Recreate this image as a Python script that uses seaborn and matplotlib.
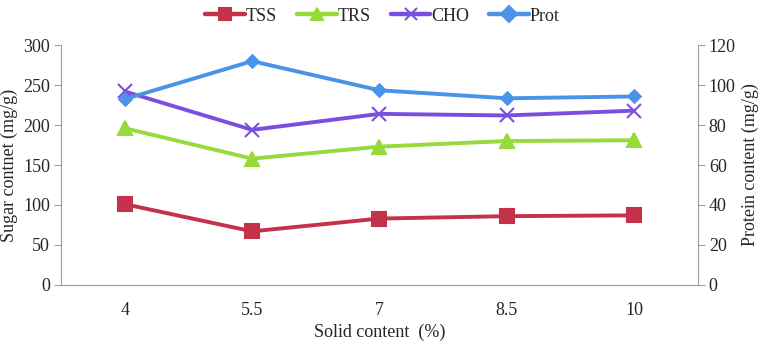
import pandas as pd
import numpy as np
import matplotlib.pyplot as plt
import seaborn as sns
from matplotlib.lines import Line2D

# ========== DATA ==========
solid = ["4", "5.5", "7", "8.5", "10"]
tss = [101, 67, 83, 86, 87]
trs = [196, 158, 173, 180, 181]
cho = [242, 194, 214, 212, 218]
prot = [93, 112, 97.4, 93.4, 94.3]

df = pd.DataFrame({"solid": solid, "TSS": tss, "TRS": trs, "CHO": cho, "Prot": prot})

# ========== STYLE ==========
sns.set_style("white")
plt.rcParams['font.family'] = ['Liberation Serif', 'DejaVu Serif']
plt.rcParams['font.size'] = 13

colors = {"TSS": "#C3314A", "TRS": "#97DB3A", "CHO": "#7A4FE0", "Prot": "#4B93E8"}
markers = {"TSS": "s", "TRS": "^", "CHO": "x", "Prot": "D"}
msize = {"TSS": 10, "TRS": 10, "CHO": 10, "Prot": 7.5}

fig = plt.figure(figsize=(7.65, 3.42), dpi=100)
ax = fig.add_axes([0.08, 0.167, 0.832, 0.701])
ax2 = ax.twinx()

for name in ["TSS", "TRS", "CHO"]:
    sns.lineplot(data=df, x="solid", y=name, ax=ax, color=colors[name], lw=2.8,
                 marker=markers[name], markersize=msize[name], markeredgecolor=colors[name],
                 markeredgewidth=1.5, sort=False)
sns.lineplot(data=df, x="solid", y="Prot", ax=ax2, color=colors["Prot"], lw=2.8,
             marker=markers["Prot"], markersize=msize["Prot"], markeredgecolor=colors["Prot"],
             sort=False)

ax.set_ylim(0, 300)
ax.set_yticks(np.arange(0, 301, 50))
ax2.set_ylim(0, 120)
ax2.set_yticks(np.arange(0, 121, 20))
ax.set_xlim(-0.5, len(solid) - 0.5)

ax.set_xlabel("Solid content  (%)", fontsize=13, labelpad=4)
ax.set_ylabel("Sugar contnet (mg/g)", fontsize=13, labelpad=4)
ax2.set_ylabel("Protein content (mg/g)", fontsize=13, labelpad=4)

# Excel-like ticks between categories
ax.set_xticks(np.arange(-0.5, len(solid), 1.0), minor=False)
ax.set_xticklabels([])
ax.set_xticks(np.arange(len(solid)), minor=True)
ax.set_xticklabels(solid, minor=True)
ax.tick_params(axis="x", which="major", length=5, color="#A0A0A0", direction="out")
ax.tick_params(axis="x", which="minor", length=0, pad=12, labelsize=13)
ax.tick_params(axis="y", length=5, color="#A0A0A0", direction="out", left=True, pad=3, labelsize=13)
ax2.tick_params(axis="y", length=5, color="#A0A0A0", direction="out", right=True, pad=3, labelsize=13)

for a in (ax, ax2):
    a.spines["top"].set_visible(False)
    for s in ["left", "right", "bottom"]:
        a.spines[s].set_color("#A0A0A0")
ax.spines["right"].set_visible(False)
ax2.spines["left"].set_visible(False)
ax2.spines["bottom"].set_visible(False)

handles = [Line2D([], [], color=colors[n], lw=3.2, marker=markers[n], markersize=8,
                  markeredgecolor=colors[n], markeredgewidth=1.5)
           for n in ["TSS", "TRS", "CHO", "Prot"]]
fig.legend(handles, ["TSS", "TRS", "CHO", "Prot"], loc="upper center", ncol=4,
           frameon=False, bbox_to_anchor=(0.5, 1.025), handlelength=2.2,
           handletextpad=0.05, columnspacing=1.1, fontsize=13)

plt.savefig("out.png", dpi=100)
